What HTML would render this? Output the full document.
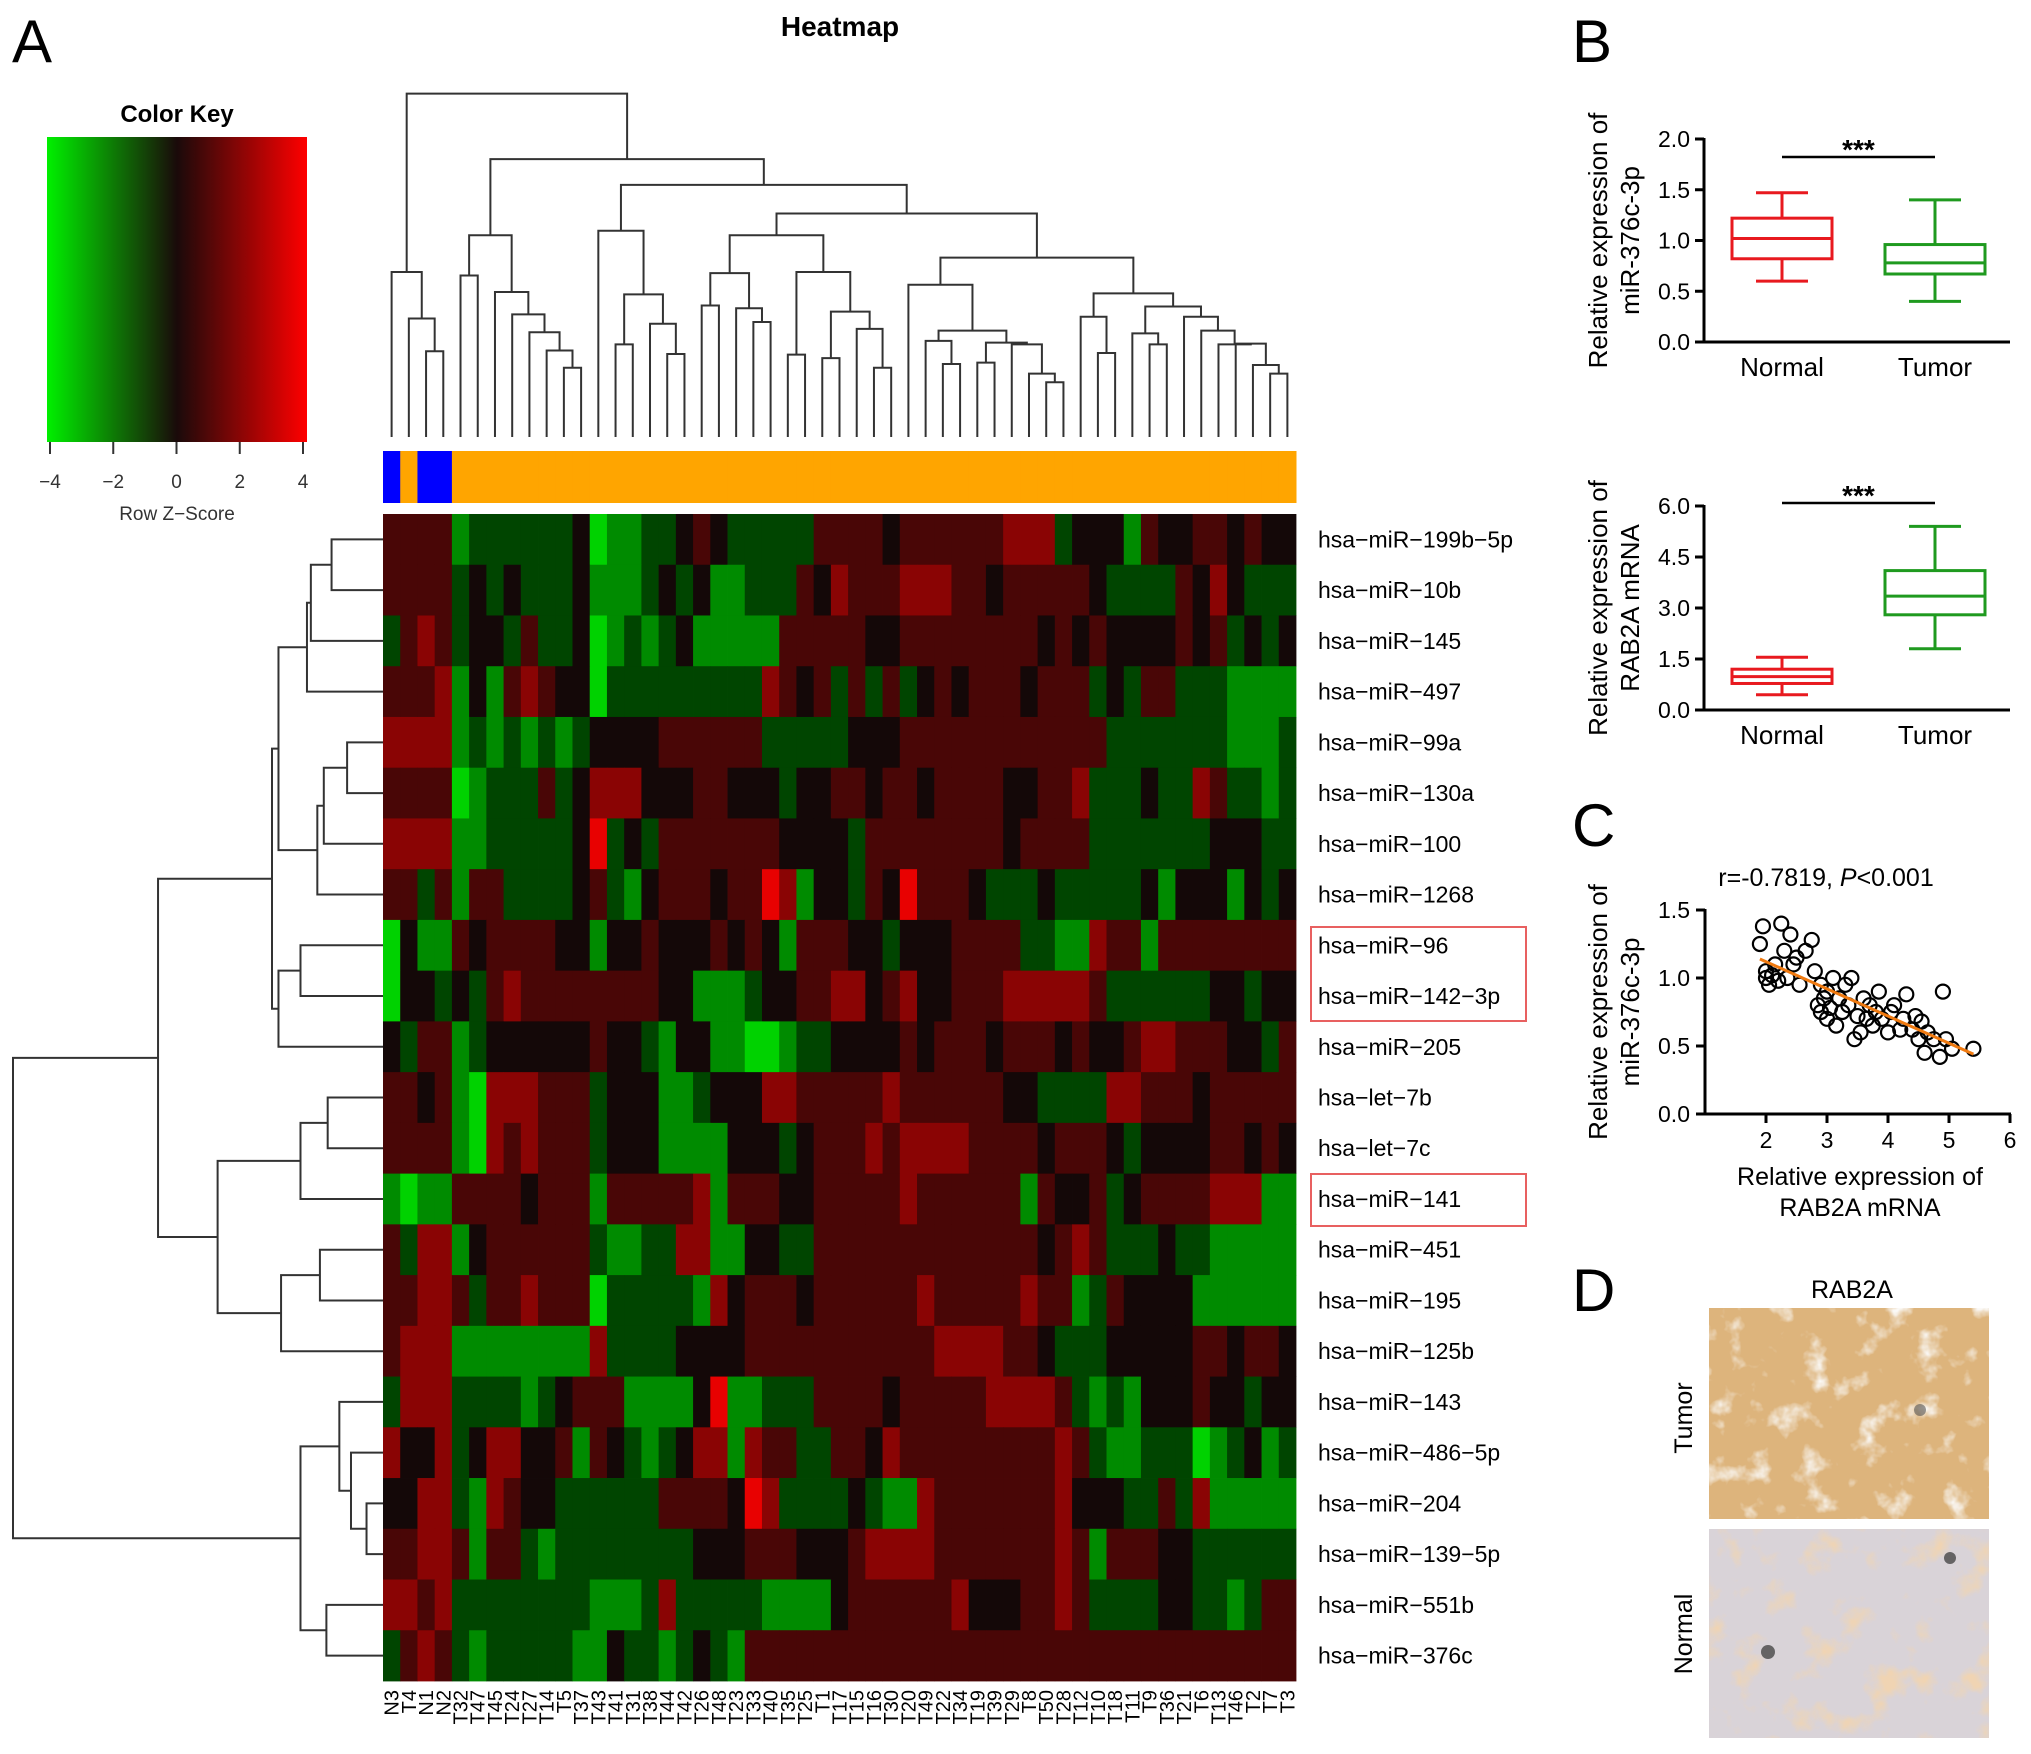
<!DOCTYPE html>
<html><head><meta charset="utf-8"><style>
html,body{margin:0;padding:0;background:#fff}
svg{display:block;font-family:"Liberation Sans",Arial,sans-serif}
</style></head><body>
<svg id="fig" width="2031" height="1754" viewBox="0 0 2031 1754" xmlns="http://www.w3.org/2000/svg">
<defs>
<linearGradient id="keyGrad" x1="0" x2="1" y1="0" y2="0">
<stop offset="0" stop-color="#00f000"/><stop offset="0.5" stop-color="#1a0a0a"/><stop offset="1" stop-color="#ff0000"/>
</linearGradient>
<filter id="tumorTex" x="0" y="0" width="100%" height="100%">
<feTurbulence type="fractalNoise" baseFrequency="0.035" numOctaves="4" seed="3"/>
<feColorMatrix type="matrix" values="0 0 0 0 0.96  0 0 0 0 0.95  0 0 0 0 0.93  0 0 0 -3.5 1.5"/>
<feComposite in2="SourceGraphic" operator="in"/>
</filter>
<filter id="normalTex" x="0" y="0" width="100%" height="100%">
<feTurbulence type="fractalNoise" baseFrequency="0.03" numOctaves="4" seed="8"/>
<feColorMatrix type="matrix" values="0 0 0 0 0.87  0 0 0 0 0.66  0 0 0 0 0.45  0 0 0 -3.5 1.6"/>
<feComposite in2="SourceGraphic" operator="in"/>
</filter>
</defs>
<text x="12" y="62" font-size="60">A</text>
<text x="840" y="36" font-size="28" font-weight="bold" text-anchor="middle">Heatmap</text>
<g>
<text x="177" y="122" font-size="24" font-weight="bold" text-anchor="middle">Color Key</text>
<rect x="47" y="137" width="260" height="305" fill="url(#keyGrad)"/>
<g id="keyTicks"></g>
<text x="177" y="520" font-size="19" text-anchor="middle" fill="#333">Row Z−Score</text>
</g>
<g id="colDendro"></g>
<g id="colorBar"></g>
<g id="rowDendro"></g>
<g id="heat"></g>
<g id="rowLabels"></g>
<g id="colLabels"></g>
<rect x="1311" y="927" width="215" height="94" fill="none" stroke="#e86060" stroke-width="2"/>
<rect x="1311" y="1174" width="215" height="52" fill="none" stroke="#e86060" stroke-width="2"/>

<text x="1572" y="62" font-size="60">B</text>
<g id="boxTop"></g>
<g id="boxBot"></g>
<text x="1572" y="846" font-size="60">C</text>
<g id="scatter"></g>
<text x="1572" y="1311" font-size="60">D</text>
<g>
<text x="1852" y="1298" font-size="25" text-anchor="middle">RAB2A</text>
<rect x="1709" y="1308" width="280" height="211" fill="#ddb47c"/>
<rect x="1709" y="1308" width="280" height="211" fill="#fff" filter="url(#tumorTex)"/>
<rect x="1709" y="1529" width="280" height="209" fill="#d9d3d8"/>
<rect x="1709" y="1529" width="280" height="209" fill="#fff" filter="url(#normalTex)"/>
<circle cx="1920" cy="1410" r="6" fill="#555" opacity="0.6"/>
<circle cx="1768" cy="1652" r="7" fill="#333" opacity="0.7"/>
<circle cx="1950" cy="1558" r="6" fill="#333" opacity="0.7"/>
<text transform="translate(1692,1418) rotate(-90)" font-size="25" text-anchor="middle">Tumor</text>
<text transform="translate(1692,1634) rotate(-90)" font-size="25" text-anchor="middle">Normal</text>
</g>
</svg>
<script>
const NS="http://www.w3.org/2000/svg";
function mk(tag,attrs,parent,text){const e=document.createElementNS(NS,tag);for(const k in attrs)e.setAttribute(k,attrs[k]);if(text!==undefined)e.textContent=text;parent.appendChild(e);return e;}

// ---------- heatmap data ----------
const rowNames=["hsa−miR−199b−5p","hsa−miR−10b","hsa−miR−145","hsa−miR−497","hsa−miR−99a","hsa−miR−130a","hsa−miR−100","hsa−miR−1268","hsa−miR−96","hsa−miR−142−3p","hsa−miR−205","hsa−let−7b","hsa−let−7c","hsa−miR−141","hsa−miR−451","hsa−miR−195","hsa−miR−125b","hsa−miR−143","hsa−miR−486−5p","hsa−miR−204","hsa−miR−139−5p","hsa−miR−551b","hsa−miR−376c"];
const colNames=["N3","T4","N1","N2","T32","T47","T45","T24","T27","T14","T5","T37","T43","T41","T31","T38","T44","T42","T26","T48","T23","T33","T40","T35","T25","T1","T17","T15","T16","T30","T20","T49","T22","T34","T19","T39","T29","T8","T50","T28","T12","T10","T18","T11","T9","T36","T21","T6","T13","T46","T2","T7","T3"];
const sampleType=["N","T","N","N"].concat(Array(49).fill("T"));
// z-score levels per row: 1=-3.5 .. 4=0 .. 7=+3.5
const row00="55552333333412233454333335555455555566634442544554544";
const row01="55553434333422234342233354655566655455555433335464333";
const row02="35653443533412323422222555554455555555454544445453434";
const row03="55562425654413333333336545353534545554555343553332222";
const row04="66662323232344445555553333344455555555555533333332223";
const row05="55551233353466644455444344554554555544556333433653323";
const row06="66662233333473435555555444435555555545555333333344433";
const row07="55352553333453245554557624435475554333433333424442434";
const row08="14225455554424454445454255544344455553322655255555555";
const row09="14434356555555554422234455664564455566666533333344344";
const row10="43552344444454432442211233444454555455545445665554435";
const row11="55452166655534442234446655555655555544333366555455555";
const row12="55552165655534442222444345556566665555455543444455454";
const row13="21225555455525555562555445555565555552544534555566622";
const row14="53662455555532233662244335555555555555456533343322222";
const row15="55665355655513333326455545555556555556552354444222222";
const row16="56662222222263333444455555555555666655433344444554554";
const row17="36663333234555222247223335555455555666653232444544344";
const row18="64463466445254323466265533554655555555565322333123423";
const row19="44663265443333335555476333343226555555564443353622222";
const row20="55665255323333333344455544456666555555565255544333333";
const row21="66563333333322236333332222455555564445565333344332355";
const row22="35653233333224332343255555555555555555555555555555555";
const heatRows=[row00,row01,row02,row03,row04,row05,row06,row07,row08,row09,row10,row11,row12,row13,row14,row15,row16,row17,row18,row19,row20,row21,row22];
const levelZ=[0,-3.4,-2.2,-1.0,0,0.9,2.0,3.6];

// geometry
const HX0=383,HX1=1296,HY0=514,HY1=1681;
const nC=colNames.length,nR=rowNames.length;
const cw=(HX1-HX0)/nC, rh=(HY1-HY0)/nR;
function xCol(i){return HX0+i*cw;}
function yRow(r){return HY0+r*rh;}
function zColor(z){
  const t=Math.max(-4,Math.min(4,z))/4;
  if(t<0){const g=Math.round(10+(-t)*235);return `rgb(0,${g},0)`;}
  const r=Math.round(20+t*235);return `rgb(${r},${Math.round(8*(1-t))},${Math.round(8*(1-t))})`;
}
const heatG=document.getElementById("heat");
heatRows.forEach((s,r)=>{
  for(let c=0;c<nC;c++){
    const lv=parseInt(s.charAt(c)||"4",10)||4;
    const el=mk("rect",{x:xCol(c).toFixed(2),y:yRow(r).toFixed(2),width:(cw+0.4).toFixed(2),height:(rh+0.4).toFixed(2),fill:zColor(levelZ[lv])},heatG);
    
    
  }
});
// row labels
const rl=document.getElementById("rowLabels");
rowNames.forEach((n,r)=>{
  const t=mk("text",{x:1318,y:(yRow(r)+rh/2+8).toFixed(1),"font-size":23},rl,n);
  
  
});
// column labels
const cl=document.getElementById("colLabels");
colNames.forEach((n,c)=>{
  const cx=xCol(c)+cw/2+7;
  const t=mk("text",{transform:`translate(${cx.toFixed(1)},1690) rotate(-90)`,"font-size":20,"text-anchor":"end"},cl,n);
  
  
});
// sample type bar
const cb=document.getElementById("colorBar");
sampleType.forEach((s,c)=>{
  const el=mk("rect",{x:xCol(c).toFixed(2),y:451,width:(cw+0.5).toFixed(2),height:52,fill:s==="N"?"#0000ff":"#ffa500"},cb);
  
  
});
// color key ticks
const kt=document.getElementById("keyTicks");
const keyTicks=[-4,-2,0,2,4];
keyTicks.forEach(v=>{
  const x=50+(v+4)/8*253;
  mk("line",{x1:x,x2:x,y1:442,y2:454,stroke:"#333","stroke-width":2},kt);
  const t=mk("text",{x:x,y:488,"font-size":19,"text-anchor":"middle",fill:"#333"},kt,v<0?"−"+(-v):String(v));
  
  
});

// ---------- dendrograms ----------
const colTree=[[0,[1,[2,3,1020],925],790],
 [[[4,5,800],[6,[7,[8,[9,[10,11,1068],1018],965],913],848],683],
  [[12,[[13,14,1000],[15,[16,17,1028],940],855],670],
   [[[[18,19,887],[20,[21,22,935],895],793],[[23,24,1030],[[25,26,1040],[27,[28,29,1068],955],905],790],683],
    [[30,[[31,[32,33,1057],990],[[34,35,1053],[36,[37,[38,39,1110],1085],1000],995],960],827],
     [[40,[41,42,1025],920],[[43,[44,45,1000],968],[46,[47,[48,[49,[50,[51,52,1085],1060],998],1000],960],920],890],852],748],620],537],462],272];
const cd=document.getElementById("colDendro");
function colY(h){return h/2.904;}
const LEAFY=437;
function drawCol(node){
  if(typeof node==="number") return {x:xCol(node)+cw/2,y:LEAFY};
  const a=drawCol(node[0]),b=drawCol(node[1]),y=colY(node[2]);
  mk("path",{d:`M${a.x},${a.y}V${y}H${b.x}V${b.y}`,fill:"none",stroke:"#333","stroke-width":2},cd);
  return {x:(a.x+b.x)/2,y:y};
}
drawCol(colTree);
const rowTree=[[[[[[[0,1,256],2,240],3,237],[[[4,5,268],6,250],7,245],215],[[8,9,232],10,215],210],[[[11,12,253],13,232],[[14,15,247],16,217],168],122],[[17,[18,[19,20,283],271],262],[21,22,252],232],10];
const rd=document.getElementById("rowDendro");
const LEAFX=383;
function drawRow(node){
  if(typeof node==="number") return {x:LEAFX,y:yRow(node)+rh/2};
  const a=drawRow(node[0]),b=drawRow(node[1]),x=13+(node[2]-10)*1.295;
  mk("path",{d:`M${a.x},${a.y}H${x}V${b.y}H${b.x}`,fill:"none",stroke:"#333","stroke-width":2},rd);
  return {x:x,y:(a.y+b.y)/2};
}
drawRow(rowTree);

// ---------- boxplots ----------
const boxGroups=["Normal","Tumor"];
const boxTopStats=[[0.60,0.82,1.02,1.22,1.47],[0.40,0.67,0.78,0.96,1.40]];
const boxTopTicks=[0,0.5,1.0,1.5,2.0];
const boxBotStats=[[0.45,0.78,0.98,1.20,1.55],[1.80,2.80,3.35,4.10,5.40]];
const boxBotTicks=[0,1.5,3.0,4.5,6.0];
const boxColors=["#e8191f","#1f9a1f"];
function drawBox(gid,stats,ticks,y0,y1,vmax,lab1,lab2,sigY){
  const g=document.getElementById(gid);
  const ax=1704,xEnd=2010;
  const ys=v=>y0-(v/vmax)*(y0-y1);
  mk("line",{x1:ax,x2:ax,y1:ys(vmax)-1,y2:y0,stroke:"#000","stroke-width":3},g);
  mk("line",{x1:ax,x2:xEnd,y1:y0,y2:y0,stroke:"#000","stroke-width":3},g);
  ticks.forEach(v=>{
    mk("line",{x1:ax-9,x2:ax,y1:ys(v),y2:ys(v),stroke:"#000","stroke-width":3},g);
    const t=mk("text",{x:ax-14,y:ys(v)+8,"font-size":23,"text-anchor":"end"},g,v.toFixed(1));
    
    
  });
  const cx=[1782,1935];
  stats.forEach((s,i)=>{
    const c=boxColors[i],hw=50,ww=26;
    mk("line",{x1:cx[i],x2:cx[i],y1:ys(s[0]),y2:ys(s[1]),stroke:c,"stroke-width":3},g);
    mk("line",{x1:cx[i],x2:cx[i],y1:ys(s[3]),y2:ys(s[4]),stroke:c,"stroke-width":3},g);
    mk("line",{x1:cx[i]-ww,x2:cx[i]+ww,y1:ys(s[0]),y2:ys(s[0]),stroke:c,"stroke-width":3},g);
    mk("line",{x1:cx[i]-ww,x2:cx[i]+ww,y1:ys(s[4]),y2:ys(s[4]),stroke:c,"stroke-width":3},g);
    const b=mk("rect",{x:cx[i]-hw,y:ys(s[3]),width:hw*2,height:ys(s[1])-ys(s[3]),fill:"#fff",stroke:c,"stroke-width":3},g);
    
    
    mk("line",{x1:cx[i]-hw,x2:cx[i]+hw,y1:ys(s[2]),y2:ys(s[2]),stroke:c,"stroke-width":3},g);
    const t=mk("text",{x:cx[i],y:y0+34,"font-size":26,"text-anchor":"middle"},g,boxGroups[i]);
    
    
  });
  mk("line",{x1:cx[0],x2:cx[1],y1:sigY,y2:sigY,stroke:"#000","stroke-width":2.5},g);
  mk("text",{x:(cx[0]+cx[1])/2,y:sigY+2,"font-size":28,"font-weight":"bold","text-anchor":"middle"},g,"***");
  const lab=mk("text",{transform:`translate(1607,${(y0+y1)/2}) rotate(-90)`,"font-size":26,"text-anchor":"middle"},g);
  mk("tspan",{x:0,dy:0},lab,lab1);mk("tspan",{x:0,dy:32},lab,lab2);
  
  
}
drawBox("boxTop",boxTopStats,boxTopTicks,342,139,2.0,"Relative expression of","miR-376c-3p",157);
drawBox("boxBot",boxBotStats,boxBotTicks,710,506,6.0,"Relative expression of","RAB2A mRNA",503);

// ---------- scatter ----------
const scX=[1.9,1.95,2.0,2.0,2.05,2.1,2.15,2.2,2.25,2.3,2.35,2.4,2.45,2.5,2.55,2.65,2.75,2.8,2.85,2.9,2.95,3.0,3.0,3.05,3.1,3.15,3.2,3.25,3.3,3.35,3.4,3.5,3.55,3.6,3.65,3.7,3.75,3.8,3.85,3.9,4.0,4.05,4.1,4.2,4.25,4.3,4.4,4.45,4.5,4.55,4.6,4.65,4.75,4.85,4.9,4.95,5.05,5.4,2.9,3.45];
const scY=[1.25,1.38,1.05,1.0,0.95,1.02,1.1,0.98,1.4,1.2,1.0,1.32,1.1,1.15,0.95,1.2,1.28,1.05,0.8,0.75,0.85,0.9,0.7,0.78,1.0,0.65,0.85,0.75,0.95,0.8,1.0,0.72,0.6,0.85,0.7,0.8,0.65,0.75,0.9,0.7,0.6,0.75,0.8,0.62,0.7,0.88,0.62,0.72,0.55,0.68,0.45,0.6,0.55,0.42,0.9,0.55,0.48,0.48,0.95,0.55];
const scXTicks=[2,3,4,5,6];
const scYTicks=[0,0.5,1.0,1.5];
const fitLine=[[1.9,1.14],[5.4,0.44]];
(function(){
  const g=document.getElementById("scatter");
  const xs=v=>1705+(v-1)*61, ys=v=>1114-v*136;
  mk("line",{x1:1705,x2:1705,y1:ys(1.5)-1,y2:1114,stroke:"#000","stroke-width":3},g);
  mk("line",{x1:1705,x2:xs(6)+1,y1:1114,y2:1114,stroke:"#000","stroke-width":3},g);
  scYTicks.forEach(v=>{
    mk("line",{x1:1696,x2:1705,y1:ys(v),y2:ys(v),stroke:"#000","stroke-width":3},g);
    const t=mk("text",{x:1690,y:ys(v)+8,"font-size":23,"text-anchor":"end"},g,v.toFixed(1));
    
    
  });
  scXTicks.forEach(v=>{
    mk("line",{x1:xs(v),x2:xs(v),y1:1114,y2:1123,stroke:"#000","stroke-width":3},g);
    const t=mk("text",{x:xs(v),y:1148,"font-size":23,"text-anchor":"middle"},g,String(v));
    
    
  });
  scX.forEach((x,i)=>{
    const c=mk("circle",{cx:xs(x),cy:ys(scY[i]),r:7,fill:"none",stroke:"#000","stroke-width":2.2},g);
    
    
  });
  const fl=mk("line",{x1:xs(fitLine[0][0]),y1:ys(fitLine[0][1]),x2:xs(fitLine[1][0]),y2:ys(fitLine[1][1]),stroke:"#f07a10","stroke-width":3},g);
  
  
  const tt=mk("text",{x:1826,y:886,"font-size":25,"text-anchor":"middle"},g);
  mk("tspan",{},tt,"r=-0.7819, ");mk("tspan",{"font-style":"italic"},tt,"P");mk("tspan",{},tt,"<0.001");
  
  
  const yl=mk("text",{transform:"translate(1607,1012) rotate(-90)","font-size":26,"text-anchor":"middle"},g);
  mk("tspan",{x:0,dy:0},yl,"Relative expression of");mk("tspan",{x:0,dy:32},yl,"miR-376c-3p");
  
  
  const xl=mk("text",{x:1860,y:1185,"font-size":25,"text-anchor":"middle"},g);
  mk("tspan",{x:1860,dy:0},xl,"Relative expression of");mk("tspan",{x:1860,dy:31},xl,"RAB2A mRNA");
  
  
})();
</script>
</body></html>
